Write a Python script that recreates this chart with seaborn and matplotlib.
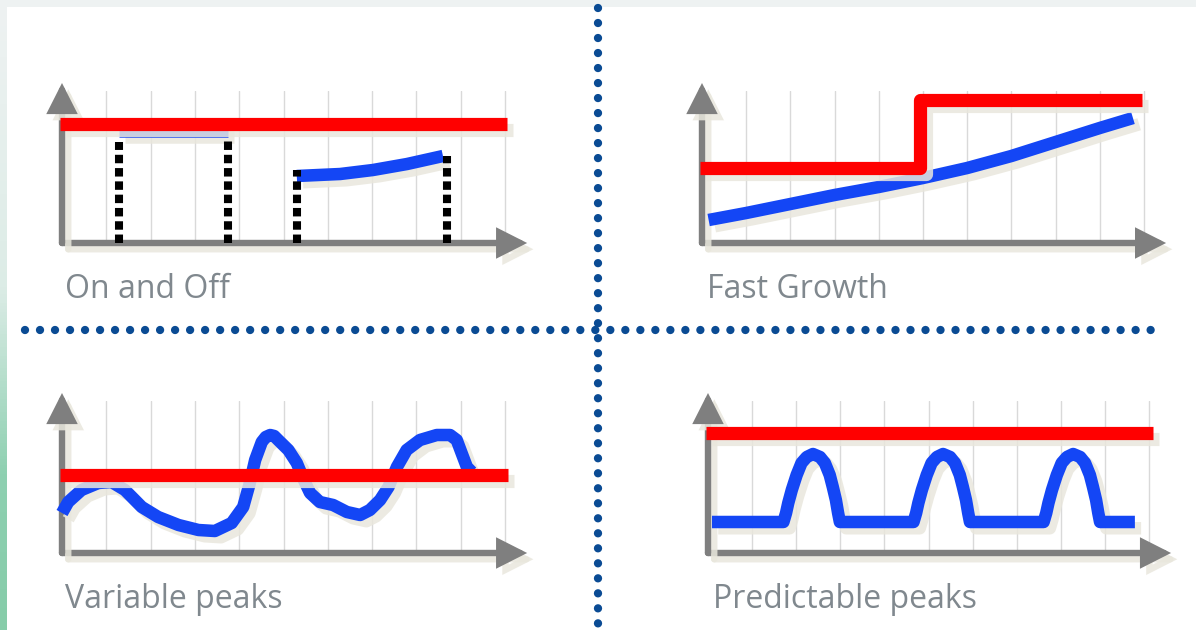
import matplotlib
matplotlib.use("Agg")
import matplotlib.pyplot as plt
import matplotlib.patheffects as pe
from matplotlib.colors import LinearSegmentedColormap
from matplotlib.lines import Line2D
from matplotlib.patches import Rectangle
import numpy as np
import seaborn as sns

W, H = 1196, 630

RED = "#ff0000"
BLUE = "#1446f5"
AXIS_GREY = "#7f7f7f"
SHADOW = "#e9e7dd"
LABEL_GREY = "#80888e"
DIVIDER = "#0a4b94"

GRID_X = [1, 2, 3, 4, 5, 6, 7, 8, 9, 10]

# On and Off
ONOFF_LIMIT_X = [-0.05, 10.05]
ONOFF_LIMIT_Y = [11.9, 11.9]
ONOFF_SWITCH_X = [1.29, 3.75, 5.30, 8.69]
ONOFF_SWITCH_TOP = [10.1, 10.2, 7.3, 8.7]
ONOFF_IDLE_X = [1.29, 3.75]
ONOFF_IDLE_Y = [11.2, 11.2]
ONOFF_LOAD_X = [5.30, 6.28, 7.02, 7.79, 8.60]
ONOFF_LOAD_Y = [6.7, 6.9, 7.3, 7.9, 8.7]

# Fast Growth
GROWTH_LIMIT_X = [-0.05, 4.93, 4.93, 9.95]
GROWTH_LIMIT_Y = [7.5, 7.5, 14.3, 14.3]
GROWTH_LOAD_X = [0.15, 1.0, 2.0, 3.0, 4.0, 5.0, 6.0, 7.0, 8.0, 9.0, 9.75]
GROWTH_LOAD_Y = [2.3, 3.0, 3.9, 4.8, 5.6, 6.5, 7.5, 8.7, 10.1, 11.5, 12.5]

# Variable peaks
VAR_LIMIT_X = [-0.05, 10.07]
VAR_LIMIT_Y = [7.8, 7.8]
VAR_LOAD_X = [0.0, 0.14, 0.44, 0.82, 1.12, 1.42, 1.80, 2.17, 2.63, 3.08, 3.45,
              3.83, 4.09, 4.24, 4.36, 4.51, 4.60, 4.70, 4.79, 4.88, 5.11, 5.30,
              5.45, 5.60, 5.82, 6.12, 6.43, 6.73, 6.95, 7.18, 7.37, 7.56, 7.78,
              8.08, 8.46, 8.76, 8.91, 9.02, 9.14, 9.25]
VAR_LOAD_Y = [4.0, 5.1, 6.3, 7.0, 7.1, 6.3, 4.6, 3.6, 2.8, 2.3, 2.2,
              3.0, 4.6, 7.0, 9.3, 11.1, 11.6, 11.8, 11.7, 11.3, 10.3, 9.0,
              7.4, 6.0, 5.1, 4.8, 4.1, 3.8, 4.3, 5.3, 6.6, 8.6, 10.3,
              11.3, 11.8, 11.8, 11.3, 10.0, 8.6, 8.1]

# Predictable peaks
PRED_LIMIT_X = [-0.05, 10.09]
PRED_LIMIT_Y = [12.0, 12.0]
PRED_LOAD_X = [0.09, 1.71, 1.77, 1.82, 1.90, 2.01, 2.12, 2.24, 2.38, 2.54, 2.65,
               2.76, 2.83, 2.90, 2.95, 2.99,
               4.66, 4.72, 4.77, 4.85, 4.96, 5.07, 5.19, 5.33, 5.49, 5.60,
               5.71, 5.78, 5.85, 5.90, 5.94,
               7.61, 7.67, 7.72, 7.80, 7.91, 8.02, 8.14, 8.28, 8.44, 8.55,
               8.66, 8.73, 8.80, 8.85, 8.89, 9.68]
PRED_LOAD_Y = [3.1, 3.1, 4.0, 5.0, 6.3, 7.8, 9.0, 9.6, 9.9, 9.6, 9.0,
               7.8, 6.6, 5.3, 4.0, 3.1,
               3.1, 4.0, 5.0, 6.3, 7.8, 9.0, 9.6, 9.9, 9.6, 9.0,
               7.8, 6.6, 5.3, 4.0, 3.1,
               3.1, 4.0, 5.0, 6.3, 7.8, 9.0, 9.6, 9.9, 9.6, 9.0,
               7.8, 6.6, 5.3, 4.0, 3.1, 3.1]

TITLES = ["On and Off", "Fast Growth", "Variable peaks", "Predictable peaks"]


def shadow():
    return [pe.SimpleLineShadow(offset=(4.5, -4.5), shadow_color=SHADOW, alpha=0.85),
            pe.Normal()]


def panel_axes(fig, ox, oy, sx):
    # ox, oy: pixel position of the axes origin, sx: pixels per grid step
    ax = fig.add_axes([ox / W, 1 - oy / H, 10.6 * sx / W, 152 / H])
    return ax


def style_panel(ax):
    ax.set_xlim(0, 10.6)
    ax.set_ylim(0, 15.2)
    ax.set_xticks(GRID_X)
    ax.set_yticks([])
    ax.tick_params(length=0, labelbottom=False, labelleft=False)
    ax.grid(axis="x", color="#d9d9d9", linewidth=1)
    ax.grid(axis="y", visible=False)
    ax.set(xlabel="", ylabel="")
    sns.despine(ax=ax, left=True, bottom=True)
    ax.set_facecolor("none")

    # axis arrows with a soft shadow, kept under the data lines
    for xy in [(10.5, 0), (0, 16)]:
        ax.annotate("", xy=xy, xytext=(0, 0), annotation_clip=False,
                    arrowprops=dict(arrowstyle="-|>,head_length=0.75,head_width=0.38",
                                    mutation_scale=20, lw=4.6, color=AXIS_GREY,
                                    shrinkA=0, shrinkB=0, joinstyle="miter",
                                    path_effects=shadow()),
                    zorder=1.5)


def draw_line(ax, x, y, color, lw, z):
    sns.lineplot(x=x, y=y, ax=ax, color=color, linewidth=lw, sort=False,
                 estimator=None, solid_capstyle="butt", solid_joinstyle="round",
                 path_effects=shadow(), zorder=z, clip_on=False)


sns.set_theme(style="white")
plt.rcParams["font.family"] = ["Open Sans", "DejaVu Sans"]

fig = plt.figure(figsize=(W / 100, H / 100), dpi=100)
fig.patch.set_facecolor("white")

# frame: grey strip on top, greenish gradient down the left edge
fig.add_artist(Rectangle((0, 1 - 7 / H), 1, 7 / H, transform=fig.transFigure,
                         facecolor="#eef2f2", edgecolor="none", zorder=0))
edge = fig.add_axes([0, 0, 7 / W, 1 - 7 / H], zorder=0)
edge_cmap = LinearSegmentedColormap.from_list(
    "edge", [(0, "#eef2f2"), (0.45, "#dcece6"), (0.75, "#8ed0b1"), (1, "#86cca9")])
edge.imshow(np.linspace(0, 1, 200).reshape(-1, 1), aspect="auto", cmap=edge_cmap)
edge.axis("off")

ax1 = panel_axes(fig, 62, 243, 44.3)
ax2 = panel_axes(fig, 702, 243, 44.2)
ax3 = panel_axes(fig, 62, 553, 44.3)
ax4 = panel_axes(fig, 708, 553, 44.1)

# On and Off
ax1.vlines(ONOFF_SWITCH_X, 0, ONOFF_SWITCH_TOP, colors="black", linewidth=5.8,
           linestyles=(0, (1.05, 0.6)), zorder=2.5)
draw_line(ax1, ONOFF_IDLE_X, ONOFF_IDLE_Y, BLUE, 9, 2)
draw_line(ax1, ONOFF_LOAD_X, ONOFF_LOAD_Y, BLUE, 9, 2)
draw_line(ax1, ONOFF_LIMIT_X, ONOFF_LIMIT_Y, RED, 9.5, 3)

# Fast Growth
draw_line(ax2, GROWTH_LOAD_X, GROWTH_LOAD_Y, BLUE, 9, 2)
draw_line(ax2, GROWTH_LIMIT_X, GROWTH_LIMIT_Y, RED, 9.5, 3)

# Variable peaks
draw_line(ax3, VAR_LOAD_X, VAR_LOAD_Y, BLUE, 9, 2)
draw_line(ax3, VAR_LIMIT_X, VAR_LIMIT_Y, RED, 9.5, 3)

# Predictable peaks
draw_line(ax4, PRED_LOAD_X, PRED_LOAD_Y, BLUE, 9, 2)
draw_line(ax4, PRED_LIMIT_X, PRED_LIMIT_Y, RED, 9.5, 3)

for ax in [ax1, ax2, ax3, ax4]:
    style_panel(ax)

# panel captions
for title, (px, py) in zip(TITLES, [(65, 298), (707, 298), (65, 608), (713, 608)]):
    fig.text(px / W, 1 - py / H, title, fontsize=23, color=LABEL_GREY,
             ha="left", va="baseline")

# dotted dividers between the quadrants
dot = dict(transform=fig.transFigure, color=DIVIDER, linewidth=6,
           linestyle=(0, (0.001, 1.8)), dash_capstyle="round", zorder=6)
fig.add_artist(Line2D([598 / W, 598 / W], [1 - 8 / H, 1 - 625 / H], **dot))
fig.add_artist(Line2D([25 / W, 1162 / W], [1 - 330 / H, 1 - 330 / H], **dot))

fig.savefig("out.png", dpi=100, facecolor="white")
